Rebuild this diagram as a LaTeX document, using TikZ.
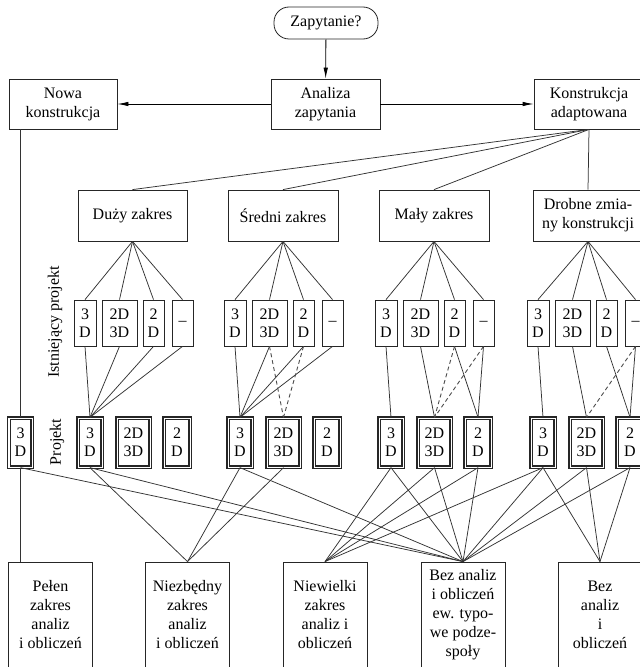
\documentclass[tikz,border=0pt]{standalone}
\usepackage{fontspec}
\setmainfont{Liberation Serif}
\usetikzlibrary{arrows.meta}
\begin{document}
\begin{tikzpicture}[x=1bp,y=-1bp,
  box/.style={draw=black!85, line width=0.8bp, inner sep=0pt, align=center, font=\fontsize{16bp}{19bp}\selectfont},
  ebox/.style={draw=black!85, line width=0.8bp, inner sep=0pt, align=center, minimum height=46bp, font=\fontsize{16bp}{18bp}\selectfont},
  pbox/.style={draw=black!85, line width=1.3bp, double=white, double distance=1bp, inner sep=0pt, align=center, minimum height=49bp, font=\fontsize{16bp}{18bp}\selectfont},
  vlabel/.style={rotate=90, inner sep=0pt, font=\fontsize{16bp}{18bp}\selectfont},
  link/.style={draw=black!80, line width=0.75bp},
  dlink/.style={draw=black!70, line width=0.9bp, dash pattern=on 4bp off 3bp},
  arr/.style={draw=black, line width=0.8bp, -{Latex[length=11bp,width=4.5bp]}}
]
\useasboundingbox (0,0) rectangle (640,667);
\clip (0,0) rectangle (640,667);
\fill[white] (0,0) rectangle (640,667);

% top row
\node[box, rounded corners=15bp, minimum width=104bp, minimum height=32bp] (zap) at (326,23) {Zapytanie?};
\node[box, minimum width=109bp, minimum height=50bp] (ana) at (325.5,104) {Analiza\\zapytania};
\node[box, minimum width=108bp, minimum height=50bp] (nowa) at (63,104) {Nowa\\konstrukcja};
\node[box, minimum width=110bp, minimum height=50bp] (kon) at (589,104) {Konstrukcja\\adaptowana};

\draw[arr] (zap) -- (ana);
\draw[arr] (ana) -- (nowa);
\draw[arr] (ana) -- (kon);

% second row
\node[box, minimum width=109bp, minimum height=51bp] (duzy) at (132.5,215.5) {Duży zakres};
\node[box, minimum width=110bp, minimum height=51bp] (sredni) at (283,215.5) {Średni zakres};
\node[box, minimum width=110bp, minimum height=51bp] (maly) at (434,215.5) {Mały zakres};
\node[box, minimum width=110bp, minimum height=51bp] (drobne) at (588,215.5) {Drobne zmia-\\ny konstrukcji};

\foreach \t in {duzy,sredni,maly,drobne} \draw[link] (kon.south) -- (\t.north);

% existing and project rows
\foreach \g/\L/\tp in {1/74/duzy, 2/224/sredni, 3/375/maly, 4/527/drobne} {
  \node[ebox, minimum width=22bp] (e\g a) at ({\L+11},323) {3\\D};
  \node[ebox, minimum width=35bp] (e\g b) at ({\L+45.5},323) {2D\\3D};
  \node[ebox, minimum width=21bp] (e\g c) at ({\L+79.5},323) {2\\D};
  \node[ebox, minimum width=21bp] (e\g d) at ({\L+108.5},323) {--};
  \node[pbox, minimum width=24bp] (p\g a) at ({\L+16},442.5) {3\\D};
  \node[pbox, minimum width=33bp] (p\g b) at ({\L+59.5},442.5) {2D\\3D};
  \node[pbox, minimum width=26bp] (p\g c) at ({\L+103},442.5) {2\\D};
  \foreach \s in {a,b,c,d} \draw[link] (\tp.south) -- (e\g \s.north);
}
\node[pbox, minimum width=23bp] (pn) at (20.5,442.5) {3\\D};

\node[vlabel] (lab1) at (55,322) {Istniejący projekt};
\node[vlabel] (lab2) at (57,442) {Projekt};

% existing -> project
\foreach \s in {a,b,c,d} \draw[link] (e1\s.south) -- (p1a.north);
\foreach \s in {a,b,c,d} \draw[link] (e2\s.south) -- (p2a.north);
\draw[dlink] (e2b.south) -- (p2b.north);
\draw[dlink] (e2c.south) -- (p2b.north);
\draw[link] (e3a.south) -- (p3a.north);
\draw[link] (e3b.south) -- (p3b.north);
\draw[link] (e3c.south) -- (p3c.north);
\draw[link] (e3d.south) -- (p3c.north);
\draw[dlink] (e3c.south) -- (p3b.north);
\draw[dlink] (e3d.south) -- (p3b.north);
\draw[link] (e4a.south) -- (p4a.north);
\draw[link] (e4b.south) -- (p4b.north);
\draw[link] (e4c.south) -- (p4c.north);
\draw[link] (e4d.south) -- (p4c.north);
\draw[dlink] (e4d.south) -- (p4b.north);

% bottom boxes
\node[box, minimum width=84bp, minimum height=106bp] (pelen) at (50.5,615) {Pełen\\zakres\\analiz\\i obliczeń};
\node[box, minimum width=84bp, minimum height=106bp] (niez) at (187.5,615) {Niezbędny\\zakres\\analiz\\i obliczeń};
\node[box, minimum width=84bp, minimum height=106bp] (niew) at (325,615) {Niewielki\\zakres\\analiz i\\obliczeń};
\node[box, minimum width=84bp, minimum height=106bp] (bezew) at (463,615) {Bez analiz\\i obliczeń\\ew. typo-\\we podze-\\społy};
\node[box, minimum width=84bp, minimum height=106bp] (bez) at (600,615) {Bez\\analiz\\i\\obliczeń};

% nowa branch
\draw[link] (nowa.south -| pn.north) -- (pn.north);
\draw[link] (pn.south) -- (pn.south |- pelen.north);

% project -> results
\foreach \p in {pn,p1a,p2a,p3a,p3b,p3c,p4a,p4b,p4c} \draw[link] (\p.south) -- (bezew.north);
\foreach \p in {p1a,p2a,p2b} \draw[link] (\p.south) -- (niez.north);
\foreach \p in {p3a,p3b,p3c,p4a} \draw[link] (\p.south) -- (niew.north);
\foreach \p in {p4a,p4b,p4c} \draw[link] (\p.south) -- (bez.north);
\end{tikzpicture}
\end{document}
